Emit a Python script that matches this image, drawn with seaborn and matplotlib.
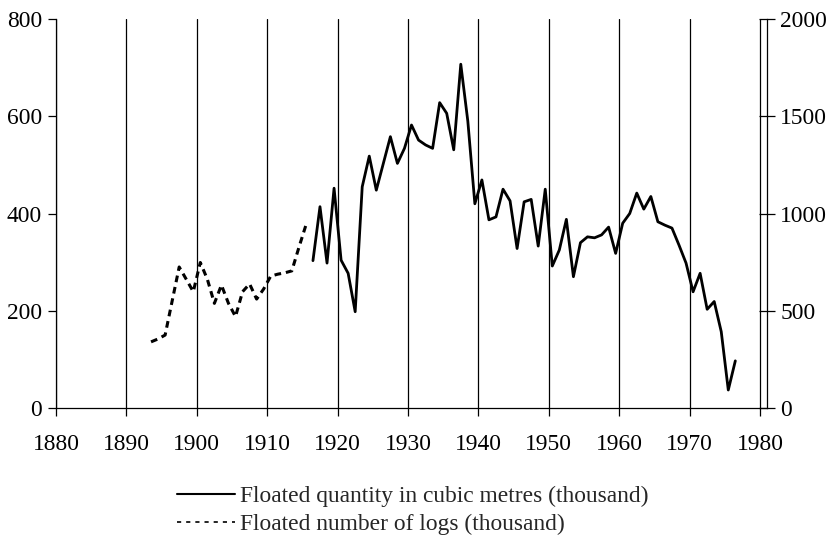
import numpy as np
import pandas as pd
import matplotlib
matplotlib.use("Agg")
import matplotlib.pyplot as plt
import seaborn as sns
from matplotlib.lines import Line2D

# ---- data ----
vol_years = list(range(1916, 1977))
vol_values = [303, 414, 298, 452, 304, 277, 198, 455, 518, 448,
              503, 558, 503, 534, 582, 551, 541, 534, 628, 606,
              531, 707, 590, 420, 469, 387, 393, 450, 426, 328,
              424, 429, 333, 450, 292, 325, 388, 270, 340, 352,
              350, 356, 372, 318, 380, 400, 442, 409, 435, 383,
              376, 370, 335, 298, 239, 277, 203, 219, 157, 37, 97]
log_years = list(range(1893, 1916))
log_values = [340, 355, 375, 550, 725, 662, 598, 748, 662, 538,
              632, 538, 470, 598, 638, 560, 612, 678, 688, 695,
              705, 825, 940]
x_ticks = list(range(1880, 1981, 10))
left_ticks = [0, 200, 400, 600, 800]
right_ticks = [0, 500, 1000, 1500, 2000]
label_vol = "Floated quantity in cubic metres (thousand)"
label_log = "Floated number of logs (thousand)"

sns.set_style("ticks")
plt.rcParams['font.family'] = ['Liberation Serif', 'DejaVu Serif']
FS = 16.9
plt.rcParams['font.size'] = FS

df_vol = pd.DataFrame({"year": np.array(vol_years) + 0.5, "value": vol_values})
df_log = pd.DataFrame({"year": np.array(log_years) + 0.5, "value": log_values})

fig = plt.figure(figsize=(8.32, 5.51), dpi=100)
ax = fig.add_axes([56/832, 1 - 408/551, (767-56)/832, (408-19)/551])
ax2 = ax.twinx()

sns.lineplot(data=df_vol, x="year", y="value", ax=ax, color="black", lw=2)
sns.lineplot(data=df_log, x="year", y="value", ax=ax2, color="black", lw=2.2,
             dashes=False, linestyle=(0, (2.2, 1.6)))

ax.set_xlim(1880, 1981)
ax.set_ylim(0, 800)
ax2.set_ylim(0, 2000)
ax.set_xticks(x_ticks)
ax.set_yticks(left_ticks)
ax2.set_yticks(right_ticks)
ax.set_xlabel("")
ax.set_ylabel("")
ax2.set_ylabel("")
ax.grid(axis='x', color='black', lw=0.9)
ax.grid(axis='y', visible=False)
ax2.grid(False)

for s in ["top", "right"]:
    ax.spines[s].set_visible(False)
for s in ["top", "left", "bottom"]:
    ax2.spines[s].set_visible(False)
for a in (ax, ax2):
    for s in a.spines.values():
        s.set_color("black")
        s.set_linewidth(0.9)

ax.tick_params(axis='x', direction='out', length=6, width=0.9, pad=13, labelsize=FS, colors='black')
ax.tick_params(axis='y', direction='out', length=6, width=0.9, pad=4, labelsize=FS, colors='black')
ax2.tick_params(axis='y', direction='inout', length=11, width=0.9, pad=4, labelsize=FS, colors='black')

handles = [Line2D([], [], color='black', lw=1.5),
           Line2D([], [], color='black', lw=1.2, linestyle=(0, (2.5, 3)))]
fig.legend(handles, [label_vol, label_log], loc='upper left',
           bbox_to_anchor=(168/832, 1 - 476/551), frameon=False,
           handlelength=2.45, handletextpad=0.2, labelspacing=0.3, fontsize=FS,
           borderaxespad=0)

fig.savefig("out.png", dpi=100)
